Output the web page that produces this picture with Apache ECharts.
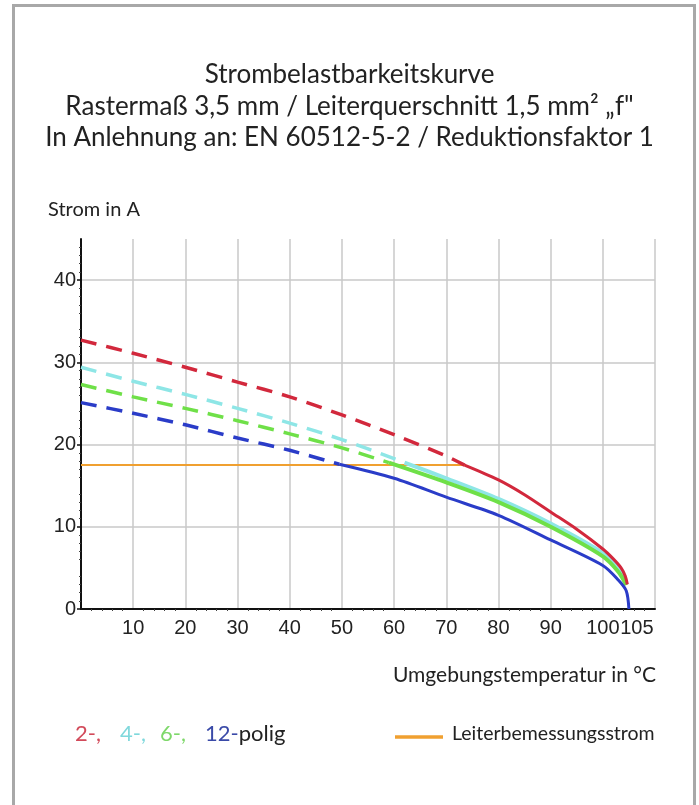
<!DOCTYPE html>
<html>
<head>
<meta charset="utf-8">
<script src="https://cdn.jsdelivr.net/npm/echarts@6/dist/echarts.min.js"></script>
<style>
html,body{margin:0;padding:0;background:#fff;}
#c{width:699px;height:805px;}
</style>
</head>
<body>
<div id="c"></div>
<script>
// ---- data ----
const titleLines = ['Strombelastbarkeitskurve', 'Rastermaß 3,5 mm / Leiterquerschnitt 1,5 mm² „f"', 'In Anlehnung an: EN 60512-5-2 / Reduktionsfaktor 1'];
const yAxisName = 'Strom in A';
const xAxisName = 'Umgebungstemperatur in °C';
const xLabelValues = [10, 20, 30, 40, 50, 60, 70, 80, 90, 100, 105];
const yLabelValues = [0, 10, 20, 30, 40];
const legendPoles = ['2-,', '4-,', '6-,', '12-'];
const legendSuffix = 'polig';
const legendRated = 'Leiterbemessungsstrom';

// 2-polig (red)
const t2Dash = [0, 10, 20, 30, 40, 50, 60, 70, 73.5];
const i2Dash = [32.7, 31.1, 29.4, 27.6, 25.8, 23.6, 21.2, 18.6, 17.5];
const t2Solid = [73.5, 80, 85, 90, 95, 100, 102, 103.5, 104.3, 104.7];
const i2Solid = [17.5, 15.7, 13.9, 11.8, 9.7, 7.3, 6.1, 5.0, 4.0, 3.0];
// 4-polig (cyan)
const t4Dash = [0, 10, 20, 30, 40, 50, 60, 62];
const i4Dash = [29.4, 27.7, 26.1, 24.4, 22.6, 20.6, 18.3, 17.8];
const t4Solid = [62, 70, 80, 90, 100, 103, 104.5];
const i4Solid = [17.8, 15.9, 13.4, 10.4, 6.8, 4.8, 3.1];
// 6-polig (green)
const t6Dash = [0, 10, 20, 30, 40, 50, 59];
const i6Dash = [27.3, 25.8, 24.4, 22.9, 21.3, 19.6, 17.8];
const t6Solid = [59, 70, 80, 90, 100, 103, 104.5];
const i6Solid = [17.8, 15.4, 13.0, 10.0, 6.4, 4.5, 2.9];
// 12-polig (blue)
const t12Dash = [0, 10, 20, 30, 40, 49.5];
const i12Dash = [25.1, 23.8, 22.4, 20.8, 19.3, 17.6];
const t12Solid = [49.5, 60, 70, 80, 90, 100, 103, 104.5, 105];
const i12Solid = [17.6, 15.9, 13.6, 11.4, 8.4, 5.3, 3.5, 2.2, 0];
// Leiterbemessungsstrom (orange)
const tRated = [0, 73.7];
const iRated = [17.5, 17.5];

const zip = (a, b) => a.map((v, i) => [v, b[i]]);

const cRed = '#d2283c', cCyan = '#8ee6e6', cGreen = '#6fe048', cBlue = '#2a3cc8', cOrange = '#f0a030';
const legendColors = ['#d24a5a', '#7fd8dc', '#7ed86a', '#3a4aa8'];
const legendX = [75, 120, 160, 205];
const FONT = 'Lato';

function line(name, data, color, dashed, width, z) {
  return {
    type: 'line', name, data, showSymbol: false, symbol: 'none',
    smooth: 0.3,
    lineStyle: { color, width, type: dashed ? [16, 10] : 'solid', cap: 'butt' },
    z: z, silent: true, animation: false
  };
}

const graphics = [
  { type: 'rect', shape: { x: 13.5, y: 5.5, width: 681, height: 830 }, style: { fill: 'none', stroke: '#a8a8a8', lineWidth: 3 }, silent: true, z: 100 },
  { type: 'text', left: 48, top: 200, style: { text: yAxisName, font: '20px ' + FONT, fill: '#222' } },
  { type: 'text', right: 43, top: 665, style: { text: xAxisName, font: '21px ' + FONT, fill: '#222' } },
  { type: 'line', shape: { x1: 395, y1: 737, x2: 443, y2: 737 }, style: { stroke: cOrange, lineWidth: 3.5 } },
  { type: 'text', left: 452, top: 724, style: { text: legendRated, font: '19.5px ' + FONT, fill: '#222' } }
];
legendPoles.forEach((t, i) => {
  graphics.push({ type: 'text', left: legendX[i], top: 723, style: {
    text: i === 3 ? '{b|' + t + '}{k|' + legendSuffix + '}' : t,
    font: '22px ' + FONT, fill: legendColors[i],
    rich: { b: { fontFamily: FONT, fontSize: 22, fill: legendColors[3] }, k: { fontFamily: FONT, fontSize: 22, fill: '#222' } }
  } });
});

const chart = echarts.init(document.getElementById('c'), null, { renderer: 'canvas' });
chart.setOption({
  backgroundColor: '#fff',
  animation: false,
  title: titleLines.map((t, i) => ({
    text: t, left: 'center', top: 57 + i * 31.5,
    textStyle: { fontFamily: FONT, fontSize: 26, fontWeight: 'normal', color: '#222' }
  })),
  grid: { left: 81, right: 44, top: 239, bottom: 196, containLabel: false },
  xAxis: {
    type: 'value', min: 0, max: 110, interval: 10,
    axisLine: { show: true, onZero: false, lineStyle: { color: '#111', width: 2 } },
    axisTick: { show: false },
    minorTick: { show: true, splitNumber: 5, length: 2, lineStyle: { color: '#444', width: 1 } },
    splitLine: { show: true, lineStyle: { color: '#c8c8c8', width: 1.5 } },
    axisLabel: {
      customValues: xLabelValues,
      margin: 9,
      fontFamily: 'Liberation Sans', fontSize: 20, color: '#222',
      formatter: v => v === 105 ? '{r|105}' : String(v),
      rich: { r: { fontFamily: 'Liberation Sans', fontSize: 20, color: '#222', padding: [0, 0, 0, 16] } }
    }
  },
  yAxis: {
    type: 'value', min: 0, max: 45, interval: 5,
    axisLine: { show: true, onZero: false, lineStyle: { color: '#111', width: 2 } },
    axisTick: { show: true, customValues: yLabelValues, length: 4, lineStyle: { color: '#111', width: 1.5 } },
    minorTick: { show: true, splitNumber: 5, length: 2, lineStyle: { color: '#444', width: 1 } },
    splitLine: { show: true, lineStyle: { color: '#c8c8c8', width: 1.5 } },
    axisLabel: {
      customValues: yLabelValues,
      margin: 5,
      fontFamily: 'Liberation Sans', fontSize: 20, color: '#222'
    }
  },
  graphic: graphics,
  series: [
    line('rated', zip(tRated, iRated), cOrange, false, 2, 1),
    line('2d', zip(t2Dash, i2Dash), cRed, true, 3.5, 5),
    line('4d', zip(t4Dash, i4Dash), cCyan, true, 3.5, 3),
    line('6d', zip(t6Dash, i6Dash), cGreen, true, 3.5, 4),
    line('12d', zip(t12Dash, i12Dash), cBlue, true, 3.5, 5),
    line('2s', zip(t2Solid, i2Solid), cRed, false, 3, 5),
    line('4s', zip(t4Solid, i4Solid), cCyan, false, 4, 3),
    line('6s', zip(t6Solid, i6Solid), cGreen, false, 4, 4),
    line('12s', zip(t12Solid, i12Solid), cBlue, false, 3, 5)
  ]
});
</script>
</body>
</html>
